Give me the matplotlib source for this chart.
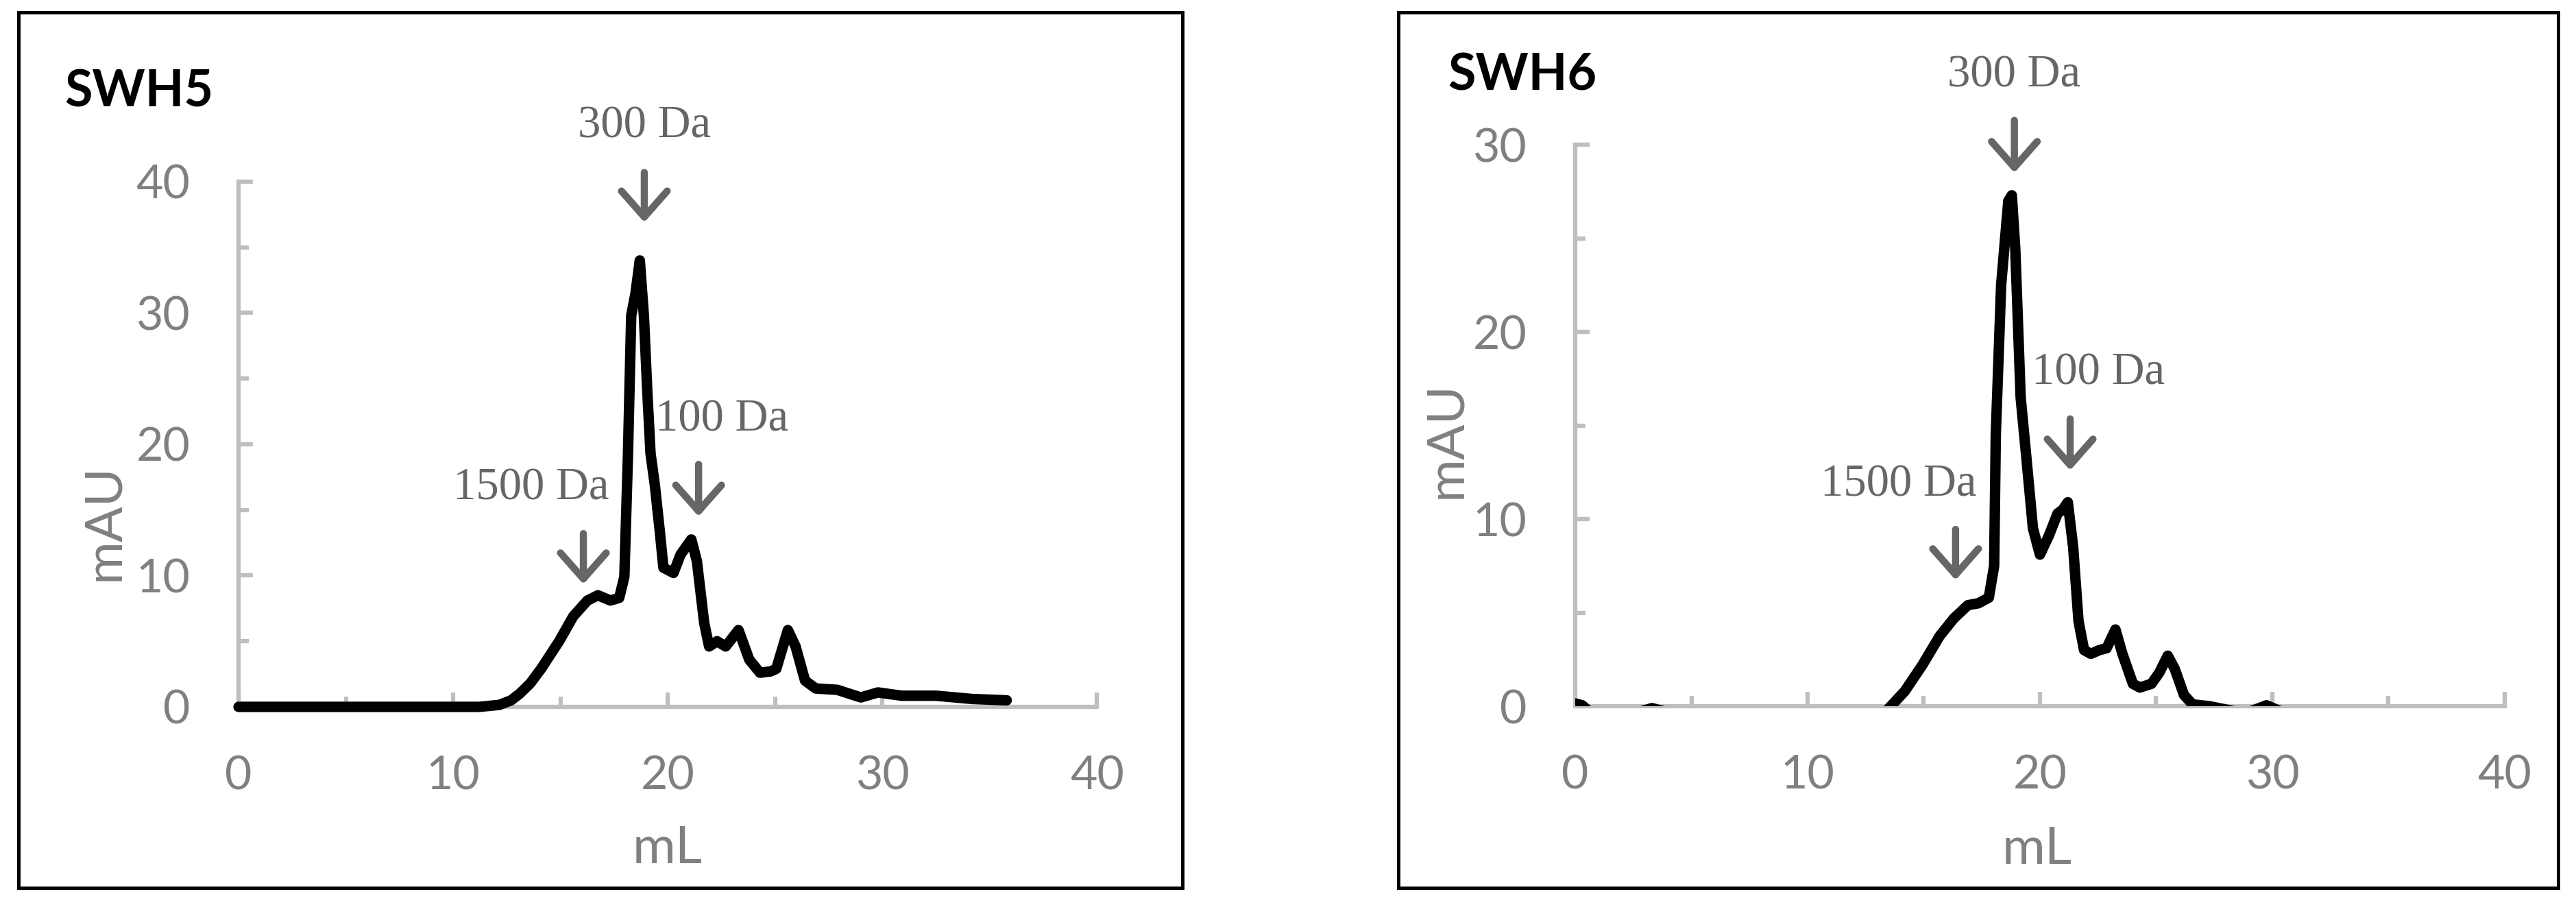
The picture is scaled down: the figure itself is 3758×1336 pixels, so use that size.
import matplotlib
matplotlib.use('Agg')
import matplotlib.pyplot as plt
from matplotlib.patches import Rectangle

# 데이터
swh5_ml = [0, 4, 8, 11.2, 12.15, 12.7, 13.1, 13.6, 14.1, 14.94, 15.6, 16.26, 16.75, 17.33, 17.74, 17.98,
           18.15, 18.3, 18.5, 18.7, 18.89, 19.05, 19.2, 19.4, 19.63, 19.8, 20.27, 20.6, 21.1,
           21.36, 21.7, 21.93, 22.3, 22.7, 23.3, 23.8, 24.3, 24.8, 25.06, 25.6, 25.96, 26.4,
           26.9, 27.9, 29.0, 29.8, 30.9, 32.5, 34.2, 35.8]
swh5_mau = [0, 0, 0, 0, 0.15, 0.5, 1.0, 1.8, 2.9, 5.0, 6.9, 8.1, 8.5, 8.1, 8.3, 9.9,
            19.3, 29.8, 31.5, 34.0, 29.8, 24.0, 19.3, 16.9, 13.4, 10.6, 10.2, 11.6, 12.75,
            11.1, 6.4, 4.6, 5.0, 4.6, 5.85, 3.6, 2.6, 2.7, 2.9, 5.85, 4.6, 2.0,
            1.4, 1.3, 0.72, 1.1, 0.85, 0.85, 0.6, 0.5]

swh6_ml = [0, 0.3, 0.8, 1.5, 2.5, 3.3, 4.2, 5.5, 8, 10, 12, 13.0, 13.43, 14.18, 14.94, 15.69,
           16.3, 16.9, 17.35, 17.8, 18.03, 18.1, 18.33, 18.64, 18.79, 18.94, 19.17, 19.4, 19.7,
           20.0, 20.38, 20.76, 20.98, 21.2, 21.43, 21.66, 21.9, 22.19, 22.56, 22.87, 23.25,
           23.55, 24.0, 24.3, 24.8, 25.14, 25.5, 25.8, 26.2, 26.57, 27.3, 28.1, 28.8, 29.75,
           30.6, 32, 34, 36]
swh6_mau = [0.15, 0.05, -0.5, -0.6, -0.4, -0.1, -0.4, -0.6, -0.6, -0.6, -0.6, -0.6, -0.2, 0.8,
            2.2, 3.76, 4.7, 5.4, 5.5, 5.8, 7.5, 14.5, 22.5, 27.0, 27.3, 24.4, 16.5, 13.5, 9.5,
            8.1, 9.1, 10.3, 10.5, 10.9, 8.5, 4.55, 3.0, 2.8, 3.0, 3.1, 4.1,
            2.8, 1.2, 1.0, 1.2, 1.8, 2.7, 2.0, 0.6, 0.1, 0.0, -0.2, -0.4, 0.05,
            -0.4, -0.5, -0.5, -0.5]

# 화살표 라벨: (글자, 글자 x, 글자 y, 화살표 x, 화살표 시작 y, 화살표 끝 y)
swh5_marks = [('300 Da', 18.91, 44.2, 18.91, 40.7, 36.9),
              ('100 Da', 22.52, 21.86, 21.44, 18.47, 14.5),
              ('1500 Da', 13.64, 16.64, 16.07, 13.2, 9.34)]
swh6_marks = [('300 Da', 18.88, 33.7, 18.9, 31.3, 28.5),
              ('100 Da', 22.5, 17.8, 21.3, 15.35, 12.6),
              ('1500 Da', 13.92, 11.83, 16.37, 9.45, 6.74)]

panels = [('SWH5', swh5_ml, swh5_mau, swh5_marks, 40, [0, 10, 20, 30, 40]),
          ('SWH6', swh6_ml, swh6_mau, swh6_marks, 30, [0, 10, 20, 30])]

axis_grey = '#bfbfbf'
tick_grey = '#808080'
note_grey = '#666666'

fig = plt.figure(figsize=(37.58, 13.36), dpi=100)

# 축 위치 (그림 비율)
ax_pos = [[0.0926, 0.2283, 0.3332, 0.5734],
          [0.6115, 0.2290, 0.3608, 0.6130]]
frame_pos = [[0.0072, 0.0307, 0.4518, 0.9560],
             [0.5428, 0.0307, 0.4502, 0.9560]]
title_pos = [(94 / 3758, 1 - 134 / 1336), (2112 / 3758, 1 - 110 / 1336)]
ylabel_pos = [(-0.157, 0.351), (-0.139, 0.474)]
xlabel_pos = [(0.5, -0.27), (0.497, -0.255)]

for i, (name, xs, ys, marks, ymax, yt) in enumerate(panels):
    # 바깥 테두리
    fig.patches.append(Rectangle((frame_pos[i][0], frame_pos[i][1]), frame_pos[i][2], frame_pos[i][3],
                                 transform=fig.transFigure, fill=False, edgecolor='black', linewidth=3.6))
    fig.text(title_pos[i][0], title_pos[i][1], name, fontsize=53, fontweight='bold',
             family=['Lato', 'DejaVu Sans'], ha='left', va='center', color='black')

    ax = fig.add_axes(ax_pos[i])
    ax.plot(xs, ys, color='black', linewidth=11, solid_joinstyle='round',
            solid_capstyle='round', zorder=3, clip_on=(i == 1))
    ax.set_xlim(0, 40)
    ax.set_ylim(0, ymax)
    ax.set_xticks([0, 10, 20, 30, 40])
    ax.set_xticks(range(5, 40, 10), minor=True)
    ax.set_yticks(yt)
    ax.set_yticks(range(5, ymax, 10), minor=True)

    for s in ['top', 'right']:
        ax.spines[s].set_visible(False)
    for s in ['left', 'bottom']:
        ax.spines[s].set_color(axis_grey)
        ax.spines[s].set_linewidth(4.5)

    ax.tick_params(which='both', direction='in', color=axis_grey, width=4.5)
    ax.tick_params(which='major', length=15, pad=51, labelsize=49, labelcolor=tick_grey)
    ax.tick_params(which='minor', length=11)
    for lab in ax.get_xticklabels() + ax.get_yticklabels():
        lab.set_family(['Lato', 'DejaVu Sans'])

    ax.set_xlabel('mL', fontsize=55, color=tick_grey, family=['Lato', 'DejaVu Sans'], va='center')
    ax.set_ylabel('mAU', fontsize=55, color=tick_grey, family=['Lato', 'DejaVu Sans'], va='center')
    ax.xaxis.set_label_coords(*xlabel_pos[i])
    ax.yaxis.set_label_coords(*ylabel_pos[i])

    # 분자량 표시 화살표
    for txt, tx, ty, axx, y0, y1 in marks:
        ax.text(tx, ty, txt, fontsize=48, color=note_grey, family=['Liberation Serif', 'DejaVu Serif'],
                ha='center', va='center', clip_on=False)
        ax.annotate('', xy=(axx, y1), xytext=(axx, y0), annotation_clip=False,
                    arrowprops=dict(arrowstyle='->,head_length=0.68,head_width=0.6', color=note_grey,
                                    lw=7.5, shrinkA=0, shrinkB=0, mutation_scale=40))

plt.savefig('out.png', dpi=100)
